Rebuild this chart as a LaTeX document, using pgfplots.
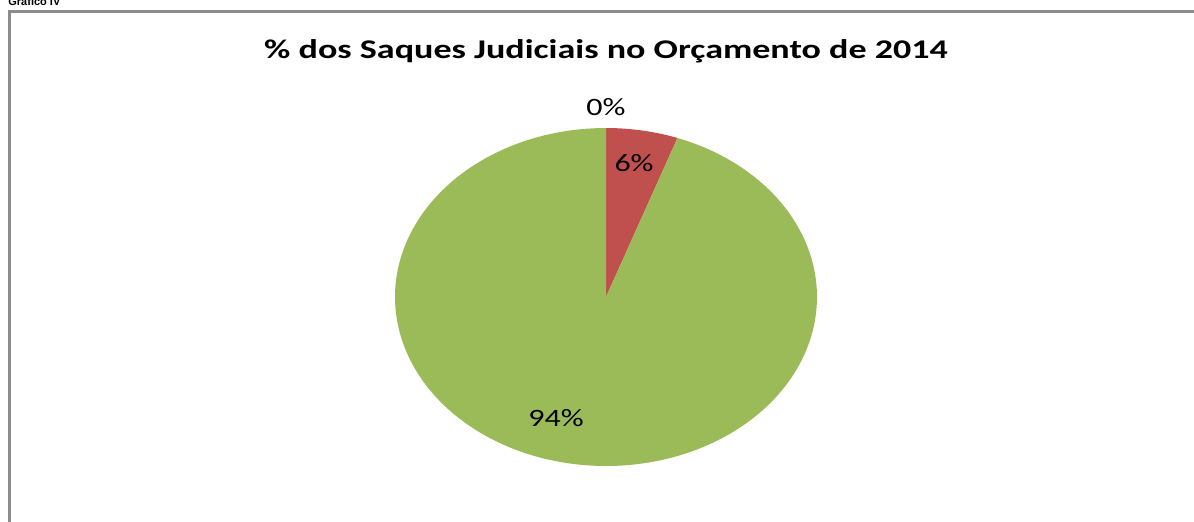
\documentclass[border=0pt]{standalone}
\usepackage{pgfplots}
\usepackage{pgfplotstable}
\pgfplotsset{compat=1.18}
\usepackage{fontspec}
\setmainfont{Carlito}
\newfontfamily\arialfont{Liberation Sans}
\definecolor{pieGreen}{HTML}{9BBB59}
\definecolor{pieRed}{HTML}{C0504D}
\definecolor{pieBlue}{HTML}{4F81BD}
\definecolor{frameGray}{HTML}{8C8C8C}

\pgfplotstableread{
label value
A 0
B 5.5
C 94.5
}\piedata

\begin{document}
\begin{tikzpicture}
\pgfplotstablegetelem{0}{value}\of\piedata \let\vA\pgfplotsretval
\pgfplotstablegetelem{1}{value}\of\piedata \let\vB\pgfplotsretval
\pgfplotstablegetelem{2}{value}\of\piedata \let\vC\pgfplotsretval
\pgfmathsetmacro\aA{90}
\pgfmathsetmacro\aB{90-3.6*\vA}
\pgfmathsetmacro\aC{\aB-3.6*\vB}
\pgfmathsetmacro\aD{\aC-3.6*\vC}
\useasboundingbox (0,0) rectangle (597pt,-260.5pt);
% frame
\draw[frameGray, line width=1.5pt] (4.75pt,-280pt) -- (4.75pt,-5.5pt) -- (610pt,-5.5pt);
\node[anchor=base west, inner sep=0pt, font=\arialfont\bfseries\fontsize{5.5}{6}\selectfont] at (4pt,-2.6pt) {Gráfico IV};
% title
\node[inner sep=0pt, font=\bfseries\fontsize{13.5}{16}\selectfont] at (303pt,-25.5pt) {\scalebox{1.335}[1]{\% dos Saques Judiciais no Orçamento de 2014}};
\begin{axis}[
  at={(303pt,-148.5pt)}, anchor=center,
  scale only axis, width=211pt, height=169pt,
  xmin=-1, xmax=1, ymin=-1, ymax=1,
  hide axis, clip=false,
]
\addplot[fill=pieRed, draw=none, domain=\aC:\aB, samples=20] ({cos(x)},{sin(x)}) -- (axis cs:0,0) -- cycle;
\addplot[fill=pieGreen, draw=none, domain=\aD:\aC, samples=200] ({cos(x)},{sin(x)}) -- (axis cs:0,0) -- cycle;
\node[font=\fontsize{12.5}{15}\selectfont] at (axis cs:0,1.124) {\scalebox{1.28}[1]{0\%}};
\node[font=\fontsize{12.5}{15}\selectfont] at (axis cs:0.133,0.793) {\scalebox{1.28}[1]{6\%}};
\node[font=\fontsize{12.5}{15}\selectfont] at (axis cs:-0.237,-0.716) {\scalebox{1.28}[1]{94\%}};
\end{axis}
\end{tikzpicture}
\end{document}
